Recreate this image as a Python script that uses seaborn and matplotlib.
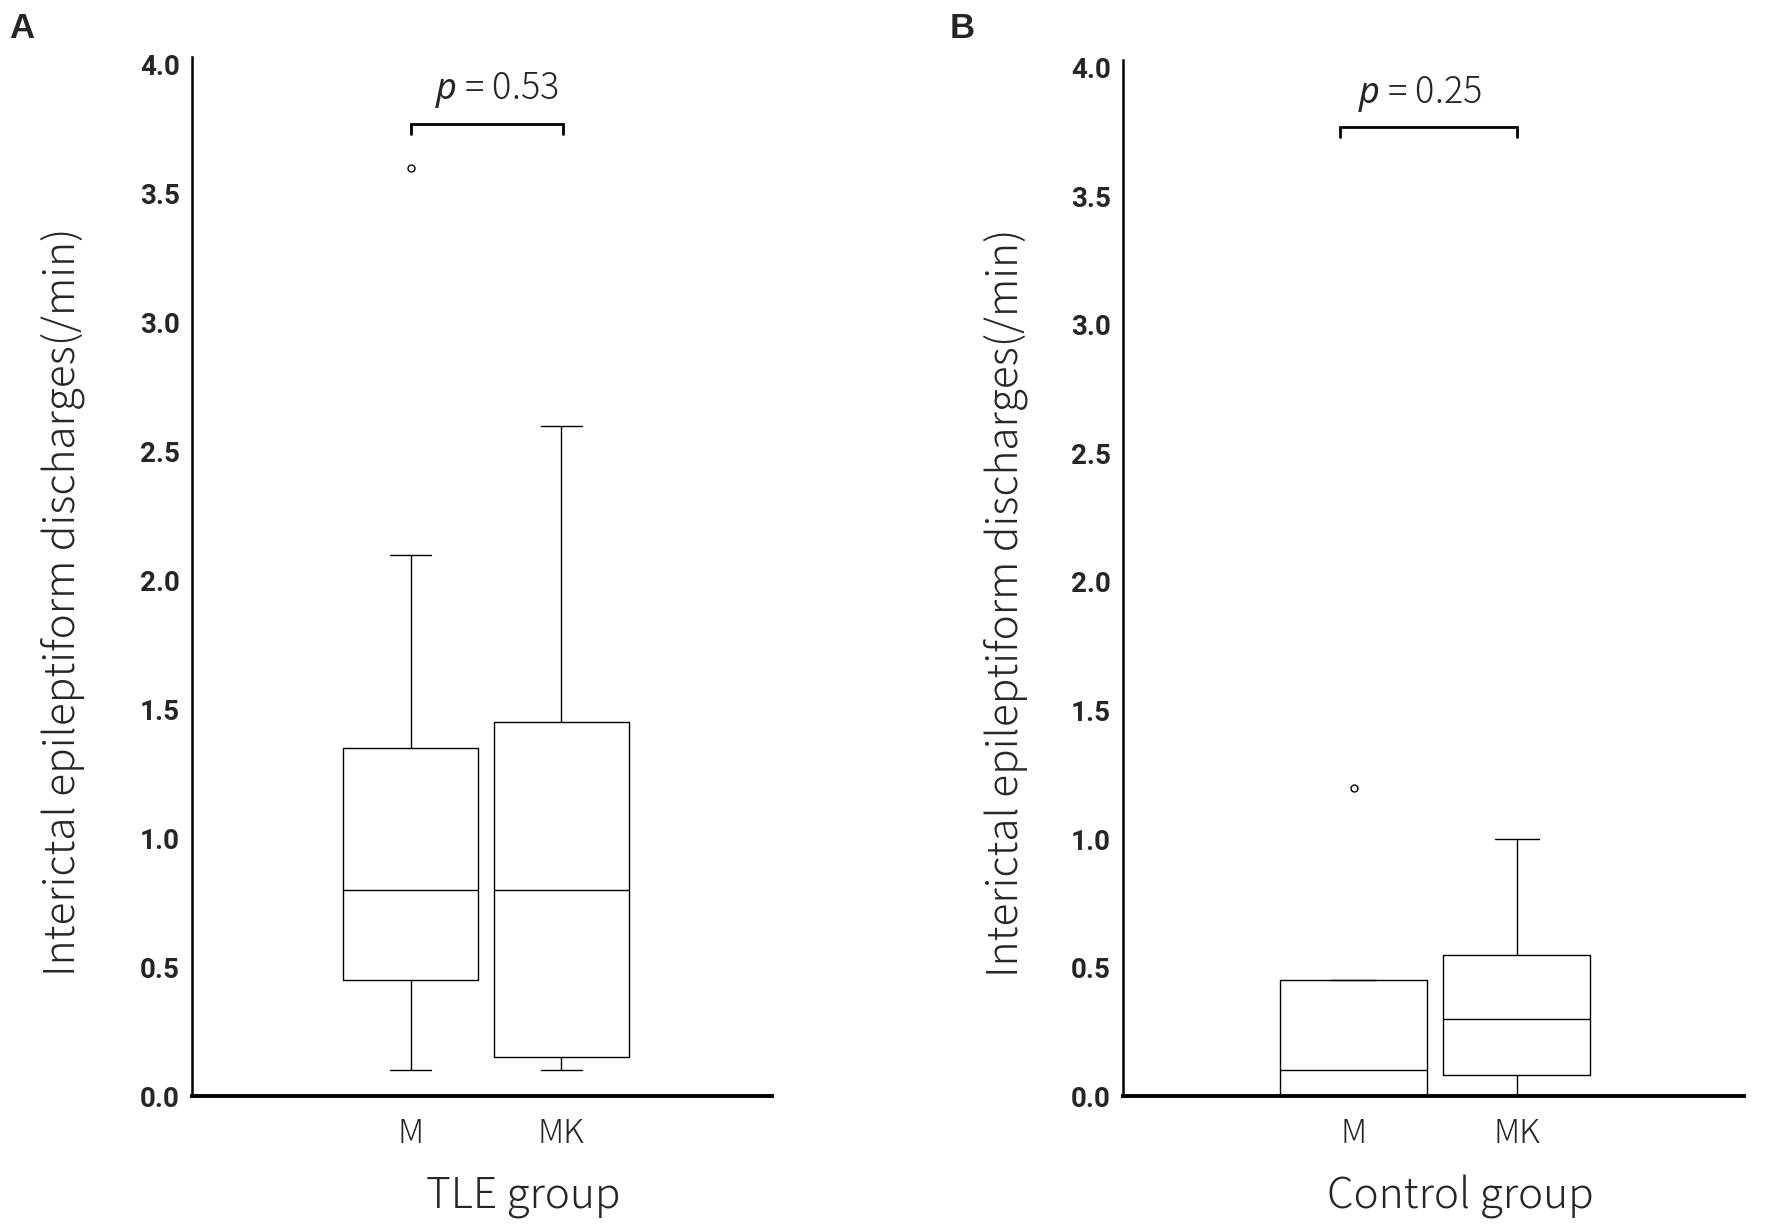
import numpy as np
import pandas as pd
import seaborn as sns
import matplotlib
matplotlib.use("Agg")
import matplotlib.pyplot as plt

# values (quartiles / whiskers / outliers reproduced by these samples)
groups = ["M", "MK"]
tle_m = [0.1, 0.3, 0.45, 0.6, 0.8, 1.0, 1.35, 2.1, 3.6]
tle_mk = [0.1, 0.1, 0.15, 0.5, 0.8, 1.2, 1.45, 2.0, 2.6]
ctrl_m = [0.0, 0.0, 0.0, 0.05, 0.1, 0.3, 0.45, 0.45, 1.2]
ctrl_mk = [0.0, 0.05, 0.08, 0.2, 0.3, 0.4, 0.55, 0.8, 1.0]
p_values = ["0.53", "0.25"]
panel_titles = ["TLE group", "Control group"]
panel_letters = ["A", "B"]
y_ticks = [0.0, 0.5, 1.0, 1.5, 2.0, 2.5, 3.0, 3.5, 4.0]

sns.set_theme(style="white")
plt.rcParams["font.family"] = ["Noto Sans CJK JP", "DejaVu Sans"]
plt.rcParams["mathtext.fontset"] = "custom"
plt.rcParams["mathtext.it"] = "Noto Sans:italic"

light_font = ["Noto Sans CJK JP", "DejaVu Sans"]
tick_font = ["Roboto", "DejaVu Sans"]


def make_frame(m_vals, mk_vals):
    return pd.DataFrame({
        "group": [groups[0]] * len(m_vals) + [groups[1]] * len(mk_vals),
        "value": list(m_vals) + list(mk_vals),
    })


def draw_panel(ax, df, xlabel, pval, xlim, bracket_x, text_x, label_x, ylabel_x):
    sns.boxplot(
        data=df, x="group", y="value", order=groups, ax=ax,
        width=0.9, fill=False, color="black", linewidth=1.0,
        capwidths=0.27,
        flierprops=dict(marker="o", markerfacecolor="white",
                        markeredgecolor="black", markersize=5,
                        markeredgewidth=1.0),
    )
    ax.set_xlim(*xlim)
    ax.set_ylim(0, 4.03)
    ax.set_yticks(y_ticks)
    ax.set_yticklabels([f"{t:.1f}" for t in y_ticks],
                       family=tick_font, fontweight="bold", fontsize=20)
    ax.set_xticks(range(len(groups)))
    ax.set_xticklabels(groups, family=light_font, fontweight="light", fontsize=24)
    ax.tick_params(axis="both", length=0)
    ax.tick_params(axis="y", pad=9)
    ax.tick_params(axis="x", pad=15)

    for side in ["top", "right"]:
        ax.spines[side].set_visible(False)
    ax.spines["left"].set_linewidth(1.8)
    ax.spines["bottom"].set_linewidth(2.8)
    ax.spines["left"].set_color("black")
    ax.spines["bottom"].set_color("black")

    ax.set_xlabel(xlabel, family=light_font, fontweight="light", fontsize=30.5)
    ax.xaxis.set_label_coords(label_x, -0.076)
    ax.set_ylabel("Interictal epileptiform discharges(/min)",
                  family=light_font, fontweight="light", fontsize=30.5)
    ax.yaxis.set_label_coords(ylabel_x, 0.476)

    # significance bracket
    x0, x1 = bracket_x
    ax.plot([x0, x0, x1, x1], [3.73, 3.77, 3.77, 3.73],
            color="black", linewidth=2.0, solid_joinstyle="miter", clip_on=False)
    ax.text(text_x, 3.90, "$p$ = " + pval, ha="center", va="center",
            family=light_font, fontweight="light", fontsize=26)


fig = plt.figure(figsize=(17.72, 12.25), dpi=100)
ax_a = fig.add_axes([0.1086, 0.1053, 0.3271, 0.8483])
ax_b = fig.add_axes([0.6339, 0.1053, 0.3502, 0.8455])

draw_panel(ax_a, make_frame(tle_m, tle_mk), panel_titles[0], p_values[0],
           (-1.45, 2.40), (0.0, 1.01), 0.57, 0.57, -0.186)
draw_panel(ax_b, make_frame(ctrl_m, ctrl_mk), panel_titles[1], p_values[1],
           (-1.41, 2.39), (-0.08, 1.0), 0.41, 0.544, -0.153)

fig.text(0.005, 0.99, panel_letters[0], ha="left", va="top",
         family=["Liberation Sans", "DejaVu Sans"], fontweight="bold", fontsize=25)
fig.text(0.536, 0.99, panel_letters[1], ha="left", va="top",
         family=["Liberation Sans", "DejaVu Sans"], fontweight="bold", fontsize=25)

fig.savefig("out.png", dpi=100, facecolor="white")
